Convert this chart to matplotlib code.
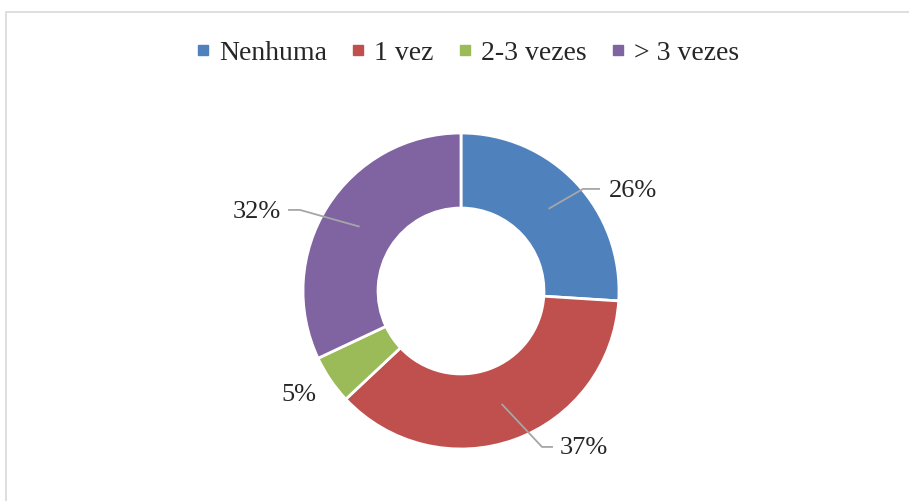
import numpy as np
import matplotlib
matplotlib.use("Agg")
import matplotlib.pyplot as plt
from matplotlib.lines import Line2D
from matplotlib.patches import Rectangle

categories = ["Nenhuma", "1 vez", "2-3 vezes", "> 3 vezes"]
values = [26, 37, 5, 32]
labels = ["26%", "37%", "5%", "32%"]
colors = ["#4F81BD", "#C0504D", "#9BBB59", "#8064A2"]

# label layout (data coords, radius 1 = outer edge)
label_xy = [(1.089, 0.633), (0.775, -0.994), (-1.025, -0.658), (-1.294, 0.50)]
# leader elbow points (None = no leader)
leader_pts = [[(0.772, 0.646), (0.880, 0.646)],
              [(0.513, -0.987), (0.582, -0.987)],
              None,
              [(-1.019, 0.513), (-1.095, 0.513)]]

plt.rcParams['font.family'] = ['Liberation Serif', 'DejaVu Serif']

W, H = 909, 501
fig = plt.figure(figsize=(W / 100, H / 100), dpi=100)
ax = fig.add_axes([0, 0, 1, 1])
cx, cy, R = 461, 291, 158

wedges, _ = ax.pie(values, colors=colors, startangle=90, counterclock=False,
                   radius=1.0, wedgeprops=dict(width=0.475, edgecolor="white", linewidth=2))
ax.set_aspect("auto")
ax.set_xlim(-cx / R, (W - cx) / R)
ax.set_ylim(-(H - cy) / R, cy / R)
ax.axis("off")

total = sum(values)
start = 90.0
for i, v in enumerate(values):
    ang = start - v / total * 360 / 2
    start -= v / total * 360
    r0 = 0.76
    p0 = (r0 * np.cos(np.radians(ang)), r0 * np.sin(np.radians(ang)))
    if leader_pts[i] is not None:
        xs = [p0[0]] + [p[0] for p in leader_pts[i]]
        ys = [p0[1]] + [p[1] for p in leader_pts[i]]
        ax.plot(xs, ys, color="#A6A6A6", lw=1.3, solid_capstyle="butt")
    ax.text(label_xy[i][0], label_xy[i][1], labels[i], ha="center", va="center",
            fontsize=19, color="#262626")

handles = [Line2D([0], [0], marker="s", linestyle="none", markersize=7.5,
                  markerfacecolor=c, markeredgecolor=c) for c in colors]
fig.legend(handles, categories, loc="center", bbox_to_anchor=(467 / W, 1 - 53 / H),
           ncol=4, frameon=False, fontsize=20, handlelength=0.55, handletextpad=0.3,
           columnspacing=0.85, labelcolor="#262626")

fig.add_artist(Rectangle((6 / W, -0.1), 1.2, 1 - 12 / H + 0.1, transform=fig.transFigure,
                         facecolor="none", edgecolor="#D9D9D9", lw=1.2, clip_on=False))

fig.savefig("out.png", dpi=100)
